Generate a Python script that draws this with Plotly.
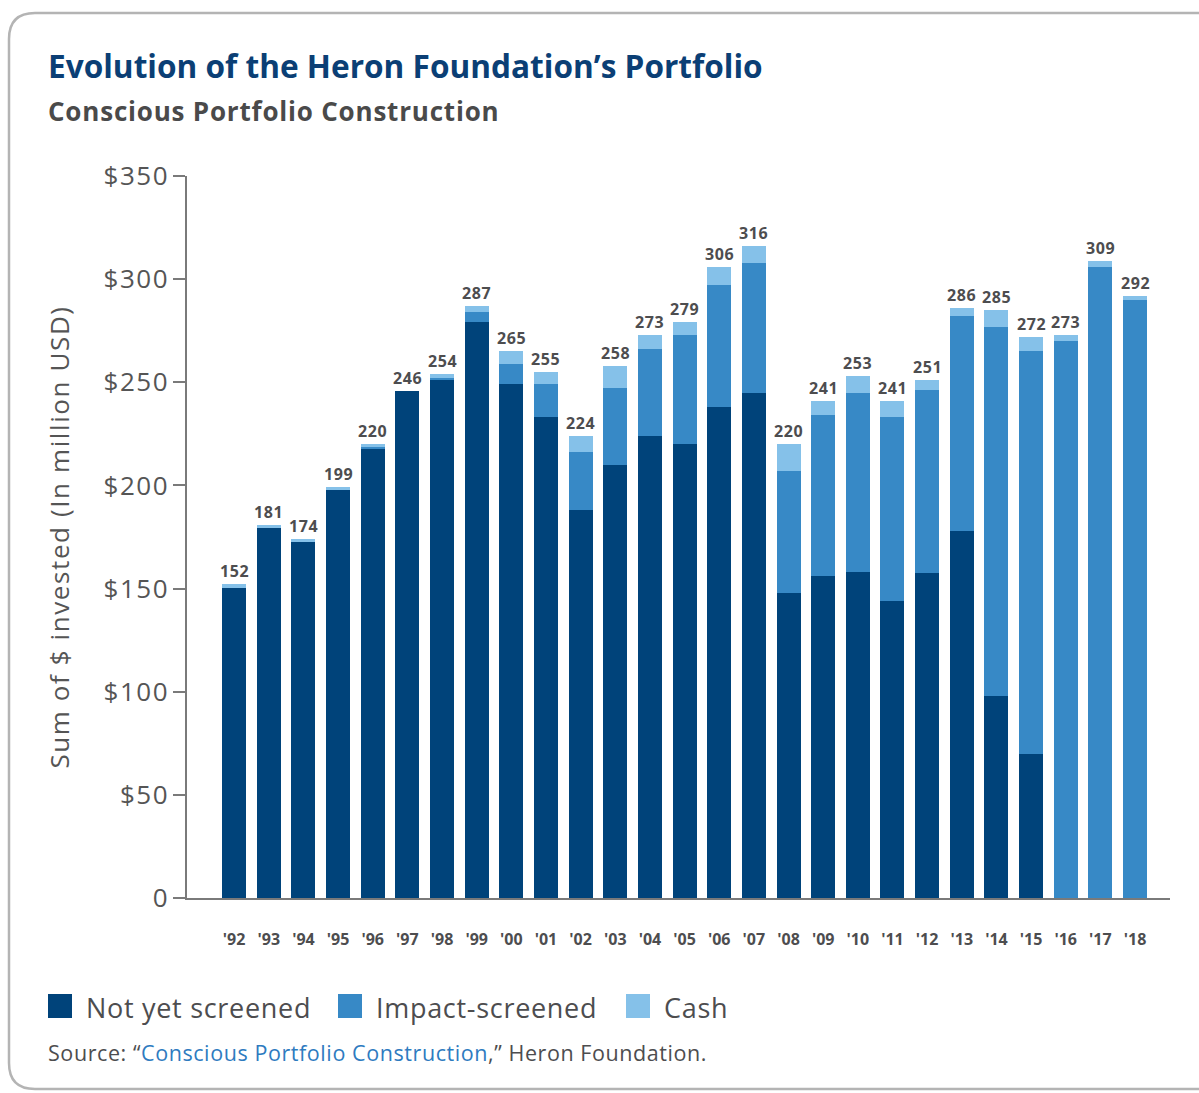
import plotly.graph_objects as go

years = ["'92", "'93", "'94", "'95", "'96", "'97", "'98", "'99", "'00", "'01", "'02", "'03", "'04",
         "'05", "'06", "'07", "'08", "'09", "'10", "'11", "'12", "'13", "'14", "'15", "'16", "'17", "'18"]
totals = [152, 181, 174, 199, 220, 246, 254, 287, 265, 255, 224, 258, 273,
          279, 306, 316, 220, 241, 253, 241, 251, 286, 285, 272, 273, 309, 292]
not_yet_screened = [150.5, 179.5, 172.5, 198, 217.7, 246, 251, 279, 249, 233, 188, 210, 224,
                    220, 238, 245, 148, 156, 158, 144, 157.5, 178, 98, 70, 0, 0, 0]
impact_screened = [0, 0, 0, 0, 1, 0, 1.3, 5, 10, 16, 28, 37, 42,
                   53, 59, 63, 59, 78, 87, 89, 89, 104, 179, 195, 270, 306, 290]
cash = [1.5, 1.5, 1.5, 1, 1.3, 0, 1.7, 3, 6, 6, 8, 11, 7,
        6, 9, 8, 13, 7, 8, 8, 4.5, 4, 8, 7, 3, 3, 2]
y_tick_vals = [0, 50, 100, 150, 200, 250, 300, 350]
y_tick_text = ["0", "$50", "$100", "$150", "$200", "$250", "$300", "$350"]

C_DARK = "#00437a"
C_MID = "#3789c6"
C_LIGHT = "#85c1e9"
TXT = "#4d4d4f"
FONT = "Open Sans"

W, H = 1199, 1093
L, R, T, B = 187, 29, 176, 195
PW, PH = W - L - R, H - T - B


def px(x):
    return (x - L) / PW


def py(y):
    return (H - B - y) / PH


def ls(text, spacing):
    return f"<span style='letter-spacing:{spacing}px'>{text}</span>"


x_idx = list(range(len(years)))
fig = go.Figure()
for name, vals, col in [("Not yet screened", not_yet_screened, C_DARK),
                        ("Impact-screened", impact_screened, C_MID),
                        ("Cash", cash, C_LIGHT)]:
    fig.add_trace(go.Bar(x=x_idx, y=vals, name=name, marker=dict(color=col, line=dict(width=0)),
                         showlegend=False))

annotations = []
for i, t in enumerate(totals):
    annotations.append(dict(x=i, y=t, xref="x", yref="y", text=ls(str(t), 0.6), showarrow=False,
                            yanchor="bottom", yshift=0,
                            font=dict(family=FONT, size=16, color=TXT, weight="bold")))

# Title and subtitle
annotations.append(dict(x=px(46), y=py(66), xref="paper", yref="paper", xanchor="left", yanchor="middle",
                        text="Evolution of the Heron Foundation’s Portfolio", showarrow=False,
                        font=dict(family=FONT, size=31.6, color="#0b3f75", weight="bold")))
annotations.append(dict(x=px(46), y=py(111), xref="paper", yref="paper", xanchor="left", yanchor="middle",
                        text=ls("Conscious Portfolio Construction", 0.8), showarrow=False,
                        font=dict(family=FONT, size=26, color="#4a4a4a", weight="bold")))
# Legend (manual)
legend_items = [("Not yet screened", C_DARK, 48, 84), ("Impact-screened", C_MID, 338, 374), ("Cash", C_LIGHT, 626, 662)]
shapes = []
for label, col, sx, tx in legend_items:
    shapes.append(dict(type="rect", xref="paper", yref="paper", x0=px(sx), x1=px(sx + 24),
                       y0=py(1018), y1=py(994), fillcolor=col, line=dict(width=0)))
    annotations.append(dict(x=px(tx), y=py(1007), xref="paper", yref="paper", xanchor="left", yanchor="middle",
                            text=ls(label, 0.7), showarrow=False, font=dict(family=FONT, size=27, color=TXT)))
# Source
annotations.append(dict(x=px(46), y=py(1052), xref="paper", yref="paper", xanchor="left", yanchor="middle",
                        text=ls("Source: “<span style='color:#2e7bbf'>Conscious Portfolio Construction</span>,” Heron Foundation.", 0.58),
                        showarrow=False, font=dict(family=FONT, size=21.5, color=TXT)))

# Rounded border
x0b, y0b, x1b, y1b, r = 9, 13, 1230, 1089, 26
path = (f"M {px(x0b)},{py(y0b + r)} Q {px(x0b)},{py(y0b)} {px(x0b + r)},{py(y0b)} "
        f"L {px(x1b)},{py(y0b)} L {px(x1b)},{py(y1b)} L {px(x0b + r)},{py(y1b)} "
        f"Q {px(x0b)},{py(y1b)} {px(x0b)},{py(y1b - r)} Z")
shapes.append(dict(type="path", xref="paper", yref="paper", path=path,
                   line=dict(color="#b4b4b4", width=2.5), fillcolor="rgba(0,0,0,0)", layer="below"))

fig.update_layout(
    width=W, height=H,
    margin=dict(l=L, r=R, t=T, b=B),
    barmode="stack", bargap=0.307,
    plot_bgcolor="white", paper_bgcolor="white",
    font=dict(family=FONT, color=TXT),
    annotations=annotations, shapes=shapes,
    xaxis=dict(range=[-1.36, 27.01], tickvals=x_idx, ticktext=years, showgrid=False, zeroline=False,
               showline=True, linecolor="#7a7a7a", linewidth=2, ticks="",
               tickfont=dict(family=FONT, size=16, color=TXT, weight="bold"), ticklabelstandoff=26),
    yaxis=dict(range=[0, 350], tickvals=y_tick_vals, ticktext=[ls(t, 1.5) for t in y_tick_text],
               showgrid=False, zeroline=False,
               showline=True, linecolor="#7a7a7a", linewidth=1.5, ticks="outside", ticklen=12,
               tickcolor="#7a7a7a", tickwidth=1.5, ticklabelstandoff=-1,
               tickfont=dict(family=FONT, size=26, color="#555555"),
               title=dict(text=ls("Sum of $ invested (In million USD)", 1.6), standoff=26,
                          font=dict(family=FONT, size=26, color="#555555"))),
)

fig.write_html("out.html")
